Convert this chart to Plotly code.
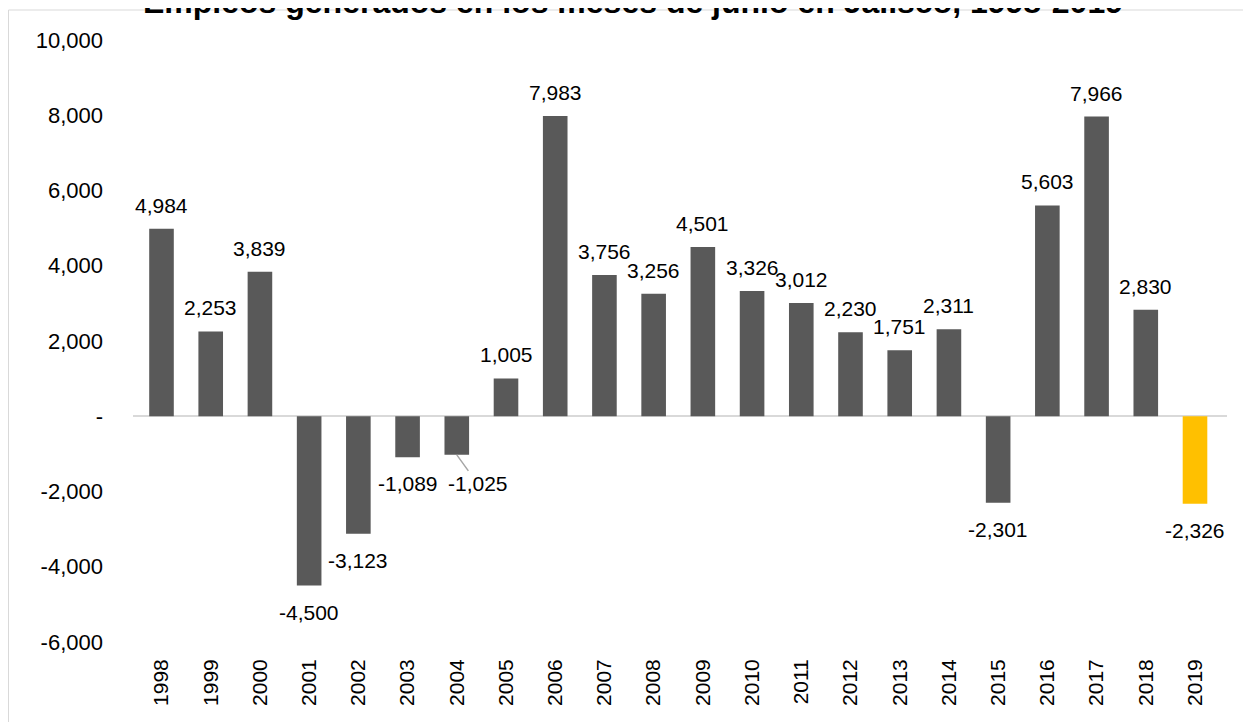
import plotly.graph_objects as go

years = [str(y) for y in range(1998, 2020)]
values = [4984, 2253, 3839, -4500, -3123, -1089, -1025, 1005, 7983, 3756, 3256,
          4501, 3326, 3012, 2230, 1751, 2311, -2301, 5603, 7966, 2830, -2326]
highlight_year = "2019"
leader_year = "2004"

tick_vals = [-6000, -4000, -2000, 0, 2000, 4000, 6000, 8000, 10000]
tick_text = ["-6,000", "-4,000", "-2,000", "-", "2,000", "4,000", "6,000", "8,000", "10,000"]

title_text = "Empleos generados en los meses de junio en Jalisco, 1998-2019"

colors = ["#FFC000" if y == highlight_year else "#595959" for y in years]

FONT = "Liberation Sans, Arial"
FS_LBL = 21
FS_Y = 22
FS_X = 21

fig = go.Figure()
fig.add_trace(go.Bar(
    x=years, y=values, marker=dict(color=colors, line=dict(width=0)),
    hoverinfo="x+y",
))

# data labels
for i, (y, v) in enumerate(zip(years, values)):
    if y == leader_year:
        fig.add_annotation(x=i, y=v, xref="x", yref="y", text=f"{v:,}", showarrow=True,
                           ax=21, ay=29, arrowhead=0, arrowwidth=1.5, arrowcolor="#A6A6A6",
                           standoff=0, startstandoff=0,
                           font=dict(family=FONT, size=FS_LBL, color="#000000"))
    elif v >= 0:
        fig.add_annotation(x=i, y=v, xref="x", yref="y", text=f"{v:,}", showarrow=False,
                           yanchor="bottom", yshift=10,
                           font=dict(family=FONT, size=FS_LBL, color="#000000"))
    else:
        fig.add_annotation(x=i, y=v, xref="x", yref="y", text=f"{v:,}", showarrow=False,
                           yanchor="top", yshift=-13,
                           font=dict(family=FONT, size=FS_LBL, color="#000000"))

W, H = 1243, 714
L, R, T, B = 125, 24, 32, 80
pw, ph = W - L - R, H - T - B

# title (partly above the frame, as in the source image)
fig.add_annotation(xref="paper", yref="paper", x=(624.5 - L) / pw, y=1 + 38 / ph,
                   xanchor="center", yanchor="middle", showarrow=False,
                   text=f"<b>{title_text}</b>",
                   font=dict(family=FONT, size=32, color="#000000"))

# chart frame
fig.add_shape(type="rect", xref="paper", yref="paper",
              x0=(0.5 - L) / pw, x1=(W + 5 - L) / pw,
              y0=-(B + 5) / ph, y1=(H - B - 2) / ph,
              line=dict(color="#D9D9D9", width=1), fillcolor="rgba(0,0,0,0)", layer="below")

fig.update_layout(
    width=W, height=H,
    margin=dict(l=L, r=R, t=T, b=B, pad=0),
    paper_bgcolor="white", plot_bgcolor="white",
    bargap=0.5, showlegend=False,
    font=dict(family=FONT, color="#000000"),
)
fig.update_xaxes(type="category", showgrid=False, showline=False, zeroline=False,
                 tickangle=-90, tickfont=dict(size=FS_X, color="#000000"), ticks="",
                 ticklabelstandoff=12)
fig.update_yaxes(range=[-6000, 10000], tickvals=tick_vals, ticktext=tick_text,
                 showgrid=False, showline=False, zeroline=True, zerolinecolor="#D9D9D9",
                 zerolinewidth=2, ticks="", tickfont=dict(size=FS_Y, color="#000000"),
                 ticklabelstandoff=29)

fig.write_html("out.html")
